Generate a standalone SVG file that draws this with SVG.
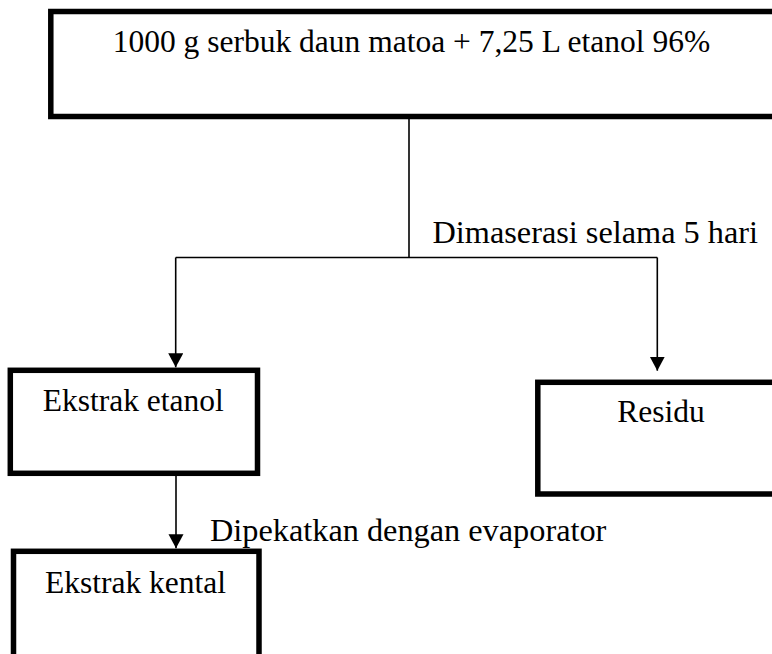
<svg xmlns="http://www.w3.org/2000/svg" width="772" height="654" viewBox="0 0 772 654">
  <style>
    .box { fill: #ffffff; stroke: #000000; stroke-width: 5.5; }
    .txt { font-family: "Liberation Serif", "Times New Roman", serif; font-size: 31.5px; fill: #000000; }
    .lbl { font-family: "Liberation Serif", "Times New Roman", serif; font-size: 32.3px; fill: #000000; }
    .conn { fill: none; stroke: #000000; stroke-width: 1.6; }
  </style>
  <defs>
    <marker id="arrow" markerUnits="userSpaceOnUse" markerWidth="16" markerHeight="16" refX="14" refY="7.5" orient="auto" viewBox="0 0 16 16">
      <path d="M0,0 L14,7.5 L0,15 z" fill="#000000"/>
    </marker>
  </defs>
  <rect width="772" height="654" fill="#ffffff"/>

  <g id="connectors">
    <line class="conn" x1="409" y1="119" x2="409" y2="257.5"/>
    <line class="conn" x1="175.7" y1="257.5" x2="657.3" y2="257.5"/>
    <line class="conn" x1="175.7" y1="257.5" x2="175.7" y2="367.3" marker-end="url(#arrow)"/>
    <line class="conn" x1="657.3" y1="257.5" x2="657.3" y2="370.7" marker-end="url(#arrow)"/>
    <line class="conn" x1="176" y1="476" x2="176" y2="548.3" marker-end="url(#arrow)"/>
    <text class="lbl" x="432.5" y="243">Dimaserasi selama 5 hari</text>
    <text class="lbl" x="210" y="540.7">Dipekatkan dengan evaporator</text>
  </g>

  <g id="node-start">
    <rect class="box" x="50.8" y="11.5" width="760" height="105"/>
    <text class="txt" x="112.7" y="52.3">1000 g serbuk daun matoa + 7,25 L etanol 96%</text>
  </g>

  <g id="node-ekstrak-etanol">
    <rect class="box" x="10.3" y="370.3" width="247.2" height="103"/>
    <text class="txt" x="42.7" y="410.7">Ekstrak etanol</text>
  </g>

  <g id="node-residu">
    <rect class="box" x="537.8" y="382.3" width="260" height="111.7"/>
    <text class="txt" x="617.3" y="421.7">Residu</text>
  </g>

  <g id="node-ekstrak-kental">
    <rect class="box" x="13.5" y="551.3" width="245.5" height="140"/>
    <text class="txt" x="45" y="592.7">Ekstrak kental</text>
  </g>
</svg>
